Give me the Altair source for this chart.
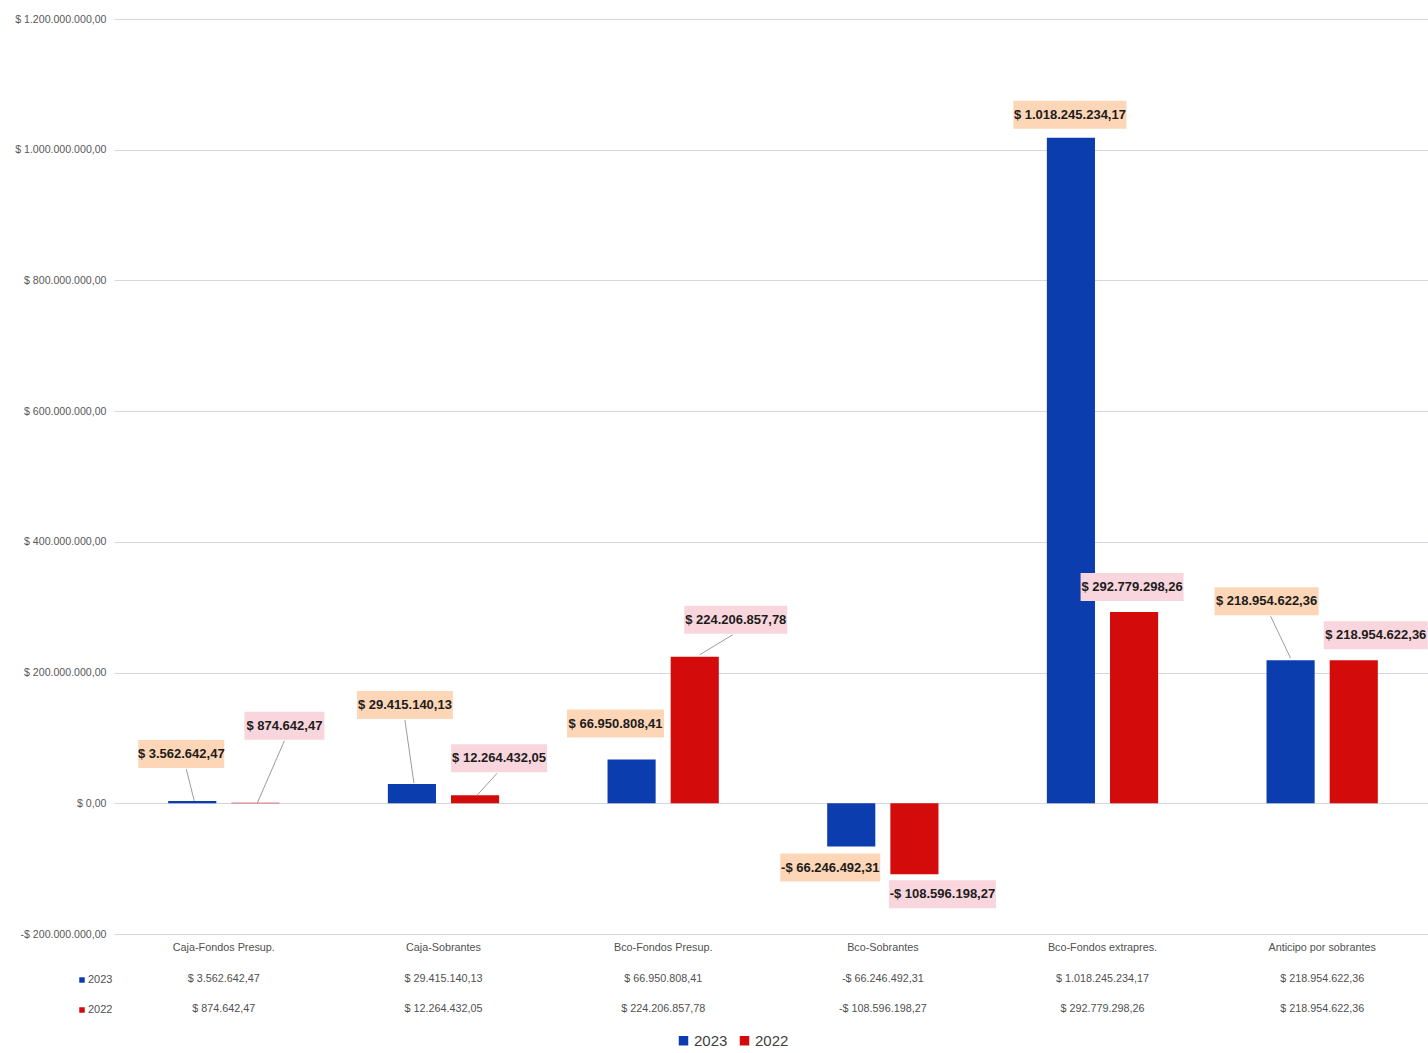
import altair as alt
import pandas as pd

# --- data -------------------------------------------------------------
categories = [
    "Caja-Fondos Presup.",
    "Caja-Sobrantes",
    "Bco-Fondos Presup.",
    "Bco-Sobrantes",
    "Bco-Fondos extrapres.",
    "Anticipo por sobrantes",
]
years = ["2023", "2022"]
values_2023 = [3562642.47, 29415140.13, 66950808.41, -66246492.31, 1018245234.17, 218954622.36]
values_2022 = [874642.47, 12264432.05, 224206857.78, -108596198.27, 292779298.26, 218954622.36]
y_ticks = [-200e6, 0, 200e6, 400e6, 600e6, 800e6, 1000e6, 1200e6]

# --- label placement (pixel nudges from the end of each bar) -----------
# (dx, dy, box width, leader line (x1, y1, x2, y2) or None)
label_place_2023 = [
    (-11, -47, 86, (-6, -32, 2, 0)),
    (-7, -79, 96, (-7, -64, 2, -1)),
    (-16, -36, 97, None),
    (-21, 21, 100, None),
    (-1, -23, 113, None),
    (-24, -59, 104, (-20, -44, 0, -2)),
]
label_place_2022 = [
    (29, -77, 80, (29, -62, 2, 0)),
    (24, -37, 96, (22, -22, 2, 0)),
    (41, -37, 103, (38, -22, 5, -2)),
    (28, 20, 107, None),
    (-2, -25, 103, None),
    (22, -25, 104, None),
]

BLUE = "#0c3daf"
RED = "#d30b0b"
BOX_2023 = "#fcd6b6"
BOX_2022 = "#f9d6dd"
FONT = "Liberation Sans, Arial, sans-serif"


def pesos(v):
    s = f"{abs(v):,.2f}".replace(",", "#").replace(".", ",").replace("#", ".")
    return ("-$ " if v < 0 else "$ ") + s


def box_path(dx, dy, w, h=28):
    return f"M{dx - w / 2},{dy - h / 2}H{dx + w / 2}V{dy + h / 2}H{dx - w / 2}Z"


rows = []
for yr, vals, places, fill in (
    ("2023", values_2023, label_place_2023, BOX_2023),
    ("2022", values_2022, label_place_2022, BOX_2022),
):
    for c, v, (dx, dy, w, lead) in zip(categories, vals, places):
        rows.append(
            {
                "categoria": c,
                "anio": yr,
                "valor": v,
                "texto": pesos(v),
                "caja": box_path(dx, dy, w),
                "guia": (f"M{lead[0]},{lead[1]}L{lead[2]},{lead[3]}" if lead else ""),
                "fondo": fill,
                "dx": dx,
                "dy": dy,
            }
        )
df = pd.DataFrame(rows)

W, H = 1314, 915
X_SPAN = 1318  # the last category runs slightly past the right edge

x_enc = alt.X(
    "categoria:N",
    sort=categories,
    scale=alt.Scale(paddingInner=0, paddingOuter=0, range=[0, X_SPAN]),
    axis=None,
)
xo_enc = alt.XOffset(
    "anio:N",
    sort=years,
    scale=alt.Scale(domain=years, paddingInner=0.238, paddingOuter=0.858),
)
y_enc = alt.Y(
    "valor:Q",
    scale=alt.Scale(domain=[-200e6, 1200e6], nice=False, zero=False),
    axis=alt.Axis(
        values=y_ticks,
        title=None,
        domain=False,
        ticks=False,
        grid=True,
        gridColor="#d6d6e2",
        gridWidth=1,
        labelPadding=8,
        labelFont=FONT,
        labelFontSize=10.6,
        labelColor="#595959",
        labelExpr=(
            "(datum.value < 0 ? '-$ ' : '$ ') + "
            "replace(replace(replace(format(abs(datum.value), ',.2f'), "
            "regexp(',', 'g'), '#'), regexp('\\\\.', 'g'), ','), regexp('#', 'g'), '.')"
        ),
    ),
)

base = alt.Chart(df)

bars = base.mark_bar().encode(
    x=x_enc,
    xOffset=xo_enc,
    y=y_enc,
    color=alt.Color(
        "anio:N",
        sort=years,
        scale=alt.Scale(domain=years, range=[BLUE, RED]),
        legend=alt.Legend(
            title=None,
            orient="none",
            legendX=562,
            legendY=1014,
            direction="horizontal",
            symbolType="square",
            symbolSize=90,
            symbolStrokeWidth=0,
            labelFont=FONT,
            labelFontSize=15,
            labelColor="#404040",
            columnPadding=9,
            labelOffset=3,
        ),
    ),
)

leaders = base.transform_filter(alt.datum.guia != "").mark_point(
    size=4, filled=False, stroke="#9c9c9c", strokeWidth=1, opacity=1
).encode(
    x=x_enc,
    xOffset=xo_enc,
    y=alt.Y("valor:Q"),
    shape=alt.Shape("guia:N", scale=None),
)

boxes = base.mark_point(size=4, filled=True, opacity=1, strokeWidth=0).encode(
    x=x_enc,
    xOffset=xo_enc,
    y=alt.Y("valor:Q"),
    shape=alt.Shape("caja:N", scale=None),
    fill=alt.Fill("fondo:N", scale=None),
)

label_layers = []
for r in rows:
    label_layers.append(
        base.transform_filter(
            (alt.datum.categoria == r["categoria"]) & (alt.datum.anio == r["anio"])
        )
        .mark_text(
            dx=r["dx"],
            dy=r["dy"],
            font=FONT,
            fontSize=13,
            fontWeight="bold",
            color="#1c1c1c",
            baseline="middle",
            align="center",
        )
        .encode(x=x_enc, xOffset=xo_enc, y=alt.Y("valor:Q"), text="texto:N")
    )

# --- data table under the plot ----------------------------------------
table_font = dict(font=FONT, fontSize=10.8, color="#505050", baseline="middle", align="center")

cat_df = pd.DataFrame({"categoria": categories})
cat_row = alt.Chart(cat_df).mark_text(**table_font).encode(
    x=x_enc, y=alt.value(929), text="categoria:N"
)

row_layers = []
for yr, ypos in (("2023", 960), ("2022", 990)):
    row_layers.append(
        base.transform_filter(alt.datum.anio == yr)
        .mark_text(**table_font)
        .encode(x=x_enc, y=alt.value(ypos), text="texto:N")
    )

hdr_df = pd.DataFrame({"anio": years, "fila": [961, 991]})
hdr_text = alt.Chart(hdr_df).mark_text(
    font=FONT, fontSize=11, color="#505050", baseline="middle", align="left"
).encode(x=alt.value(-26), y=alt.Y("fila:Q", scale=None), text="anio:N")
hdr_sq = alt.Chart(hdr_df).mark_point(
    shape="square", filled=True, size=30, opacity=1
).encode(
    x=alt.value(-32),
    y=alt.Y("fila:Q", scale=None),
    fill=alt.Fill("anio:N", scale=alt.Scale(domain=years, range=[BLUE, RED]), legend=None),
)

chart = alt.layer(
    bars,
    leaders,
    boxes,
    *label_layers,
    cat_row,
    *row_layers,
    hdr_sq,
    hdr_text,
).properties(
    width=W,
    height=H,
    autosize=alt.AutoSizeParams(type="none"),
    padding={"left": 114, "top": 19, "right": 0, "bottom": 119},
).configure_view(stroke=None)

chart.save("out.html", embed_options={"renderer": "svg", "actions": False})
